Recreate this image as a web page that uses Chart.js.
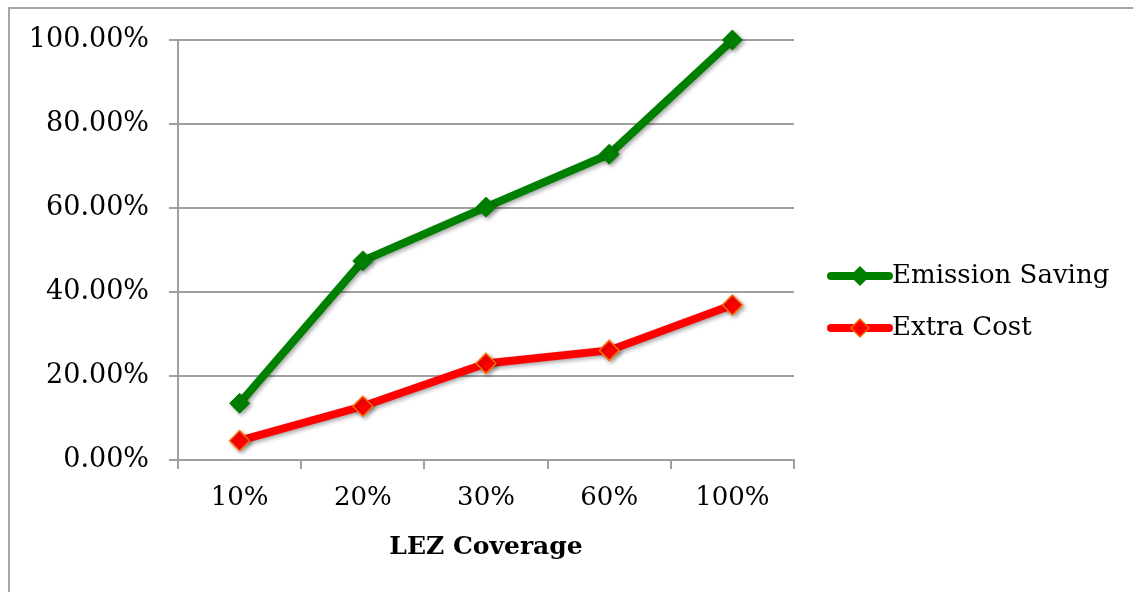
<!DOCTYPE html>
<html>
<head>
<meta charset="utf-8">
<script src="https://cdn.jsdelivr.net/npm/chart.js@4/dist/chart.umd.min.js"></script>
<style>
  html, body { margin: 0; padding: 0; background: #fff; overflow: hidden; }
  #wrap { position: relative; width: 1133px; height: 592px; }
  #frame { position: absolute; left: 8px; top: 7px; width: 1140px; height: 600px; border: 2px solid #a6a6a6; box-sizing: border-box; }
  canvas { position: absolute; left: 0; top: 0; }
</style>
</head>
<body>
<div id="wrap">
  <div id="frame"></div>
  <canvas id="chart" width="1133" height="592"></canvas>
</div>
<script>
const coverage = ['10%', '20%', '30%', '60%', '100%'];
const emissionSaving = [13.5, 47.4, 60.2, 72.8, 100.0];
const extraCost = [4.6, 12.8, 23.0, 26.1, 36.9];
const yTicks = [0, 20, 40, 60, 80, 100];

const FONT = '"DejaVu Serif", "Liberation Serif", serif';

// legend drawn by hand so the diamond sits on a thick line like the original
const legendPlugin = {
    id: 'sideLegend',
    afterDraw(chart) {
        const ctx = chart.ctx;
        const area = chart.chartArea;
        const x0 = area.right + 37;
        const x1 = x0 + 58;
        const rows = [
            { label: 'Emission Saving', color: '#008000', border: '#008000', y: area.top + 236 },
            { label: 'Extra Cost', color: '#ff0000', border: '#ff6a00', y: area.top + 288 }
        ];
        ctx.save();
        rows.forEach(r => {
            ctx.strokeStyle = r.color;
            ctx.lineWidth = 8;
            ctx.lineCap = 'round';
            ctx.beginPath();
            ctx.moveTo(x0, r.y);
            ctx.lineTo(x1, r.y);
            ctx.stroke();
            const cx = (x0 + x1) / 2;
            const s = 9;
            ctx.beginPath();
            ctx.moveTo(cx, r.y - s);
            ctx.lineTo(cx + s, r.y);
            ctx.lineTo(cx, r.y + s);
            ctx.lineTo(cx - s, r.y);
            ctx.closePath();
            ctx.fillStyle = r.color;
            ctx.fill();
            ctx.lineWidth = 1.5;
            ctx.strokeStyle = r.border;
            ctx.stroke();
            ctx.fillStyle = '#000';
            ctx.font = '26px ' + FONT;
            ctx.textBaseline = 'middle';
            ctx.textAlign = 'left';
            ctx.fillText(r.label, x1 + 3, r.y);
        });
        ctx.restore();
    }
};

const shadowPlugin = {
    id: 'markerShadow',
    beforeDatasetsDraw(chart) {
        const ctx = chart.ctx;
        ctx.save();
        ctx.shadowColor = 'rgba(0,0,0,0.35)';
        ctx.shadowBlur = 4;
        ctx.shadowOffsetX = 2;
        ctx.shadowOffsetY = 2;
    },
    afterDatasetsDraw(chart) {
        chart.ctx.restore();
    }
};

new Chart(document.getElementById('chart'), {
    type: 'line',
    data: {
        labels: coverage,
        datasets: [
            {
                label: 'Emission Saving',
                data: emissionSaving,
                borderColor: '#008000',
                backgroundColor: '#008000',
                borderWidth: 8,
                pointStyle: 'rectRot',
                pointRadius: 10,
                pointBorderColor: '#008000',
                pointBackgroundColor: '#008000',
                pointBorderWidth: 1,
                tension: 0,
                clip: false
            },
            {
                label: 'Extra Cost',
                data: extraCost,
                borderColor: '#ff0000',
                backgroundColor: '#ff0000',
                borderWidth: 8,
                pointStyle: 'rectRot',
                pointRadius: 10,
                pointBorderColor: '#ff6a00',
                pointBackgroundColor: '#ff0000',
                pointBorderWidth: 1.5,
                tension: 0,
                clip: false
            }
        ]
    },
    options: {
        responsive: false,
        animation: false,
        layout: { padding: { left: 0, top: 40, right: 339, bottom: 0 } },
        plugins: {
            legend: { display: false },
            tooltip: { enabled: false }
        },
        scales: {
            x: {
                offset: true,
                grid: {
                    offset: true,
                    drawOnChartArea: false,
                    drawTicks: true,
                    tickLength: 9,
                    color: '#a0a0a0',
                    lineWidth: 2
                },
                border: { color: '#a0a0a0', width: 2 },
                ticks: {
                    color: '#000',
                    font: { family: FONT, size: 26 },
                    padding: 14
                },
                title: {
                    display: true,
                    text: 'LEZ Coverage',
                    color: '#000',
                    font: { family: FONT, size: 25, weight: 'bold' },
                    padding: { top: 0, bottom: 30 }
                },
                afterFit(scale) { scale.height = 132; }
            },
            y: {
                min: 0,
                max: 100,
                afterBuildTicks(scale) { scale.ticks = yTicks.map(v => ({ value: v })); },
                grid: {
                    color: '#a0a0a0',
                    lineWidth: 2,
                    tickLength: 9
                },
                border: { color: '#a0a0a0', width: 2 },
                ticks: {
                    color: '#000',
                    font: { family: FONT, size: 27 },
                    padding: 20,
                    callback: v => v.toFixed(2) + '%'
                },
                afterFit(scale) { scale.width = 178; }
            }
        }
    },
    plugins: [shadowPlugin, legendPlugin]
});
</script>
</body>
</html>
